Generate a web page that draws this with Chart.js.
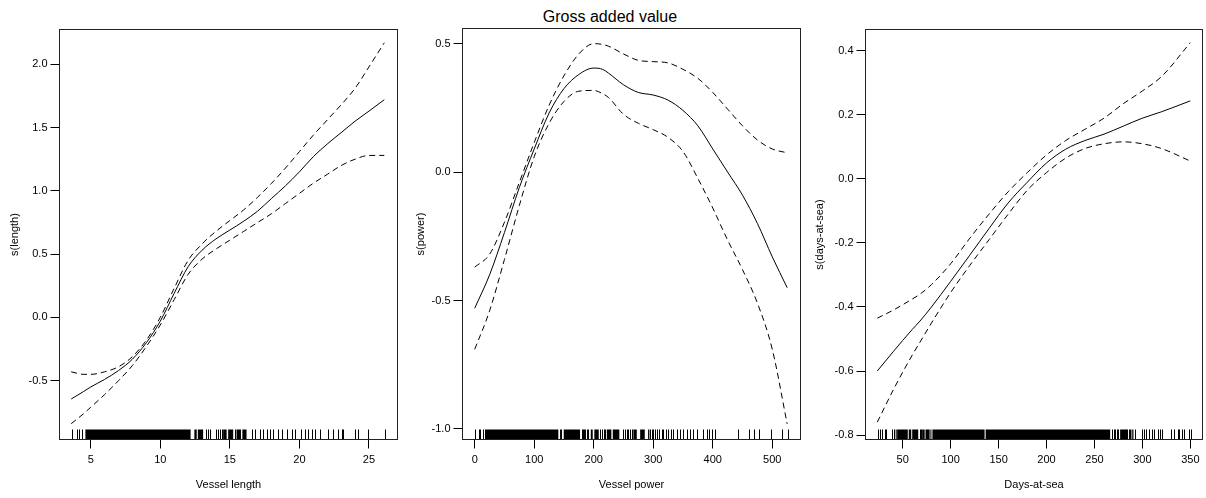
<!DOCTYPE html>
<html>
<head>
<meta charset="utf-8">
<script src="https://cdn.jsdelivr.net/npm/chart.js@4"></script>
<style>
  body { margin: 0; background: #fff; }
  #fig { position: relative; width: 1206px; height: 498px; background: #fff; overflow: hidden; }
  #fig canvas { position: absolute; top: 0; }
  #main-title { position: absolute; left: 410px; width: 400px; top: 8px; line-height: 20px;
    text-align: center; font: 16px "Liberation Sans", Arial, sans-serif; color: #000; }
</style>
</head>
<body>
<div id="fig">
  <div id="main-title">Gross added value</div>
  <canvas id="lengthChart" width="402" height="498" style="left:0px"></canvas>
  <canvas id="powerChart" width="402" height="498" style="left:402px"></canvas>
  <canvas id="daysChart" width="402" height="498" style="left:804px"></canvas>
</div>
<script>
// ================= Data =================
// vessel length smooth
const lengthX     = [3.6, 4.5, 5, 6, 7, 8, 9, 10, 11, 12, 13, 14, 15, 16, 17, 18, 19, 20, 21, 22, 23, 24, 25, 26.1];
const lengthFit   = [-0.645, -0.585, -0.55, -0.49, -0.42, -0.33, -0.20, -0.03, 0.19, 0.40, 0.53, 0.62, 0.69, 0.76, 0.84, 0.94, 1.04, 1.15, 1.27, 1.37, 1.46, 1.55, 1.63, 1.72];
const lengthUpper = [-0.43, -0.45, -0.45, -0.43, -0.39, -0.31, -0.18, 0.0, 0.23, 0.45, 0.58, 0.68, 0.765, 0.85, 0.95, 1.06, 1.18, 1.31, 1.44, 1.56, 1.68, 1.81, 1.98, 2.17];
const lengthLower = [-0.84, -0.76, -0.71, -0.61, -0.50, -0.38, -0.23, -0.06, 0.14, 0.34, 0.46, 0.54, 0.61, 0.68, 0.75, 0.82, 0.90, 0.98, 1.06, 1.13, 1.20, 1.25, 1.28, 1.28];
const lengthRug   = [3.63, 4.03, 4.18, 4.35, 13.3, 13.45, 13.6, 14.0, 14.16, 14.28, 14.41, 15.35, 16.56, 16.8, 17.16, 17.4, 17.64, 17.88, 18.11, 18.47, 18.72, 19.08, 19.44, 19.67, 20.15, 20.39, 20.63, 20.87, 21.11, 21.47, 22.06, 22.42, 22.78, 23.03, 23.14, 23.98, 24.22, 24.94, 26.14];
const lengthRugDense = [[4.62, 12.18], [12.45, 12.62], [12.7, 13.08], [14.52, 14.77], [14.88, 15.24], [15.48, 15.8], [15.9, 16.2]];
const lengthTicksX = [5, 10, 15, 20, 25];
const lengthTicksY = [-0.5, 0, 0.5, 1, 1.5, 2];

// vessel power smooth
const powerX     = [0, 25, 50, 75, 100, 125, 150, 175, 200, 215, 225, 250, 275, 300, 325, 350, 375, 400, 425, 450, 475, 500, 525];
const powerFit   = [-0.53, -0.40, -0.235, -0.06, 0.09, 0.23, 0.325, 0.38, 0.405, 0.40, 0.385, 0.34, 0.31, 0.30, 0.28, 0.24, 0.18, 0.09, 0.0, -0.09, -0.20, -0.33, -0.45];
const powerUpper = [-0.37, -0.32, -0.195, -0.04, 0.115, 0.26, 0.375, 0.46, 0.50, 0.497, 0.49, 0.46, 0.435, 0.43, 0.425, 0.40, 0.365, 0.31, 0.245, 0.18, 0.125, 0.09, 0.075];
const powerLower = [-0.69, -0.54, -0.34, -0.13, 0.06, 0.19, 0.275, 0.315, 0.318, 0.305, 0.29, 0.225, 0.19, 0.165, 0.135, 0.08, -0.025, -0.14, -0.265, -0.38, -0.51, -0.69, -0.98];
const powerRug   = [0, 7.3, 8.9, 14.5, 17.3, 179.8, 182.5, 184.2, 185.9, 188.2, 191, 211, 214, 216.5, 219, 248.7, 252.6, 255.4, 258.2, 261, 263.8, 294.6, 298, 300.2, 303, 306.9, 310.3, 314.2, 317, 321, 325.4, 329.3, 332.7, 339.5, 345, 350.6, 356.2, 361.8, 367.5, 373.1, 384.3, 389.9, 394.4, 398.3, 403.9, 442, 461.6, 469.4, 478.4, 497.5, 516, 526];
const powerRugDense = [[19, 140.5], [143.4, 146.7], [149.6, 177], [195, 198.3], [201, 208.4], [222, 229.6], [232, 243], [266.6, 272.3], [278, 285.7], [291.3, 293.5]];
const powerTicksX = [0, 100, 200, 300, 400, 500];
const powerTicksY = [-1, -0.5, 0, 0.5];

// days-at-sea smooth
const daysX     = [23.5, 40, 60, 68, 80, 100, 120, 140, 160, 180, 200, 220, 240, 260, 280, 300, 320, 350];
const daysFit   = [-0.60, -0.54, -0.47, -0.444, -0.40, -0.32, -0.238, -0.155, -0.075, -0.01, 0.05, 0.093, 0.12, 0.14, 0.165, 0.19, 0.21, 0.244];
const daysUpper = [-0.435, -0.41, -0.375, -0.36, -0.33, -0.265, -0.185, -0.11, -0.04, 0.02, 0.075, 0.12, 0.155, 0.19, 0.235, 0.275, 0.32, 0.426];
const daysLower = [-0.76, -0.66, -0.55, -0.51, -0.45, -0.355, -0.27, -0.19, -0.11, -0.035, 0.02, 0.065, 0.095, 0.11, 0.116, 0.11, 0.095, 0.056];
const daysRug   = [23.9, 26.3, 28.7, 31.5, 32.9, 39.1, 41.2, 68.1, 69.1, 268.2, 269.9, 271.6, 273.4, 275, 292.5, 300.1, 301.8, 303.5, 306.4, 309.9, 311.6, 316.2, 318.6, 320.4, 330.1, 332.5, 337, 338.7, 341.2, 343.9, 348.1, 350.2];
const daysRugDense = [[42.7, 43.3], [44.2, 55.3], [56.3, 58.9], [59.9, 66.2], [70.3, 72.9], [73.8, 78.1], [78.9, 79.4], [81, 135.4], [136.5, 266.4], [276.8, 285], [286, 288.6], [289.4, 290.7]];
const daysTicksX = [50, 100, 150, 200, 250, 300, 350];
const daysTicksY = [-0.8, -0.6, -0.4, -0.2, 0, 0.2, 0.4];

const FONT = '"Liberation Sans", Arial, sans-serif';

// ================= Helpers =================
function curve(xs, ys, dashed) {
  return {
    data: xs.map((x, i) => ({ x: x, y: ys[i] })),
    borderColor: '#000',
    borderWidth: 1,
    borderDash: dashed ? [6, 4] : [],
    pointRadius: 0,
    cubicInterpolationMode: 'monotone',
    fill: false
  };
}

// box round the plot + rug along the bottom
function boxAndRug(rug, dense) {
  return {
    id: 'boxAndRug',
    afterDatasetsDraw(chart) {
      const { ctx, chartArea: a } = chart;
      const xs = chart.scales.x;
      const h = 10;
      ctx.save();
      ctx.fillStyle = '#000';
      dense.forEach(([from, to]) => {
        const x0 = xs.getPixelForValue(from);
        const x1 = xs.getPixelForValue(to);
        ctx.fillRect(x0, a.bottom - h, Math.max(x1 - x0, 1), h);
      });
      ctx.strokeStyle = '#000';
      ctx.lineWidth = 1;
      ctx.beginPath();
      rug.forEach(v => {
        const px = Math.round(xs.getPixelForValue(v)) + 0.5;
        ctx.moveTo(px, a.bottom);
        ctx.lineTo(px, a.bottom - h);
      });
      ctx.stroke();
      ctx.strokeStyle = '#222';
      ctx.strokeRect(a.left, a.top, a.right - a.left, a.bottom - a.top);
      ctx.restore();
    }
  };
}

function makePanel(id, p) {
  const font = { family: FONT, size: 11 };
  new Chart(document.getElementById(id), {
    type: 'line',
    data: {
      datasets: [
        curve(p.x, p.fit, false),
        curve(p.x, p.upper, true),
        curve(p.x, p.lower, true)
      ]
    },
    options: {
      responsive: false,
      animation: false,
      events: [],
      layout: { padding: { left: 0, right: p.padRight, top: p.padTop, bottom: 0 } },
      plugins: { legend: { display: false }, tooltip: { enabled: false } },
      scales: {
        x: {
          type: 'linear',
          min: p.xMin,
          max: p.xMax,
          afterBuildTicks: s => { s.ticks = p.ticksX.map(v => ({ value: v })); },
          afterFit: s => { s.height = 498 - 439.5; },
          ticks: { font: font, color: '#000', padding: 5, maxRotation: 0, autoSkip: false, callback: v => String(v) },
          grid: { drawOnChartArea: false, tickLength: 9, color: '#000' },
          border: { display: false },
          title: { display: true, text: p.xTitle, font: font, color: '#000', padding: { top: 0, bottom: 6 } }
        },
        y: {
          type: 'linear',
          min: p.yMin,
          max: p.yMax,
          afterBuildTicks: s => { s.ticks = p.ticksY.map(v => ({ value: v })); },
          afterFit: s => { s.width = p.yWidth; },
          ticks: { font: font, color: '#000', padding: 3, autoSkip: false, callback: v => v.toFixed(1) },
          grid: { drawOnChartArea: false, tickLength: 9, color: '#000' },
          border: { display: false },
          title: { display: true, text: p.yTitle, font: font, color: '#000', padding: { top: p.yTitlePad, bottom: 0 } }
        }
      }
    },
    plugins: [boxAndRug(p.rug, p.dense)]
  });
}

// ================= Panels =================
makePanel('lengthChart', {
  x: lengthX, fit: lengthFit, upper: lengthUpper, lower: lengthLower,
  rug: lengthRug, dense: lengthRugDense, ticksX: lengthTicksX, ticksY: lengthTicksY,
  xMin: 2.758, xMax: 27.05, yMin: -0.965, yMax: 2.275,
  xTitle: 'Vessel length', yTitle: 's(length)',
  yWidth: 59.5, padRight: 4.5, padTop: 29.5, yTitlePad: 8.4
});

makePanel('powerChart', {
  x: powerX, fit: powerFit, upper: powerUpper, lower: powerLower,
  rug: powerRug, dense: powerRugDense, ticksX: powerTicksX, ticksY: powerTicksY,
  xMin: -20.5, xMax: 547.4, yMin: -1.041, yMax: 0.559,
  xTitle: 'Vessel power', yTitle: 's(power)',
  yWidth: 60.5, padRight: 3.5, padTop: 28.5, yTitlePad: 12.4
});

makePanel('daysChart', {
  x: daysX, fit: daysFit, upper: daysUpper, lower: daysLower,
  rug: daysRug, dense: daysRugDense, ticksX: daysTicksX, ticksY: daysTicksY,
  xMin: 11.2, xMax: 362.7, yMin: -0.814, yMax: 0.467,
  xTitle: 'Days-at-sea', yTitle: 's(days-at-sea)',
  yWidth: 61.5, padRight: 3.5, padTop: 29.5, yTitlePad: 9.4
});
</script>
</body>
</html>
